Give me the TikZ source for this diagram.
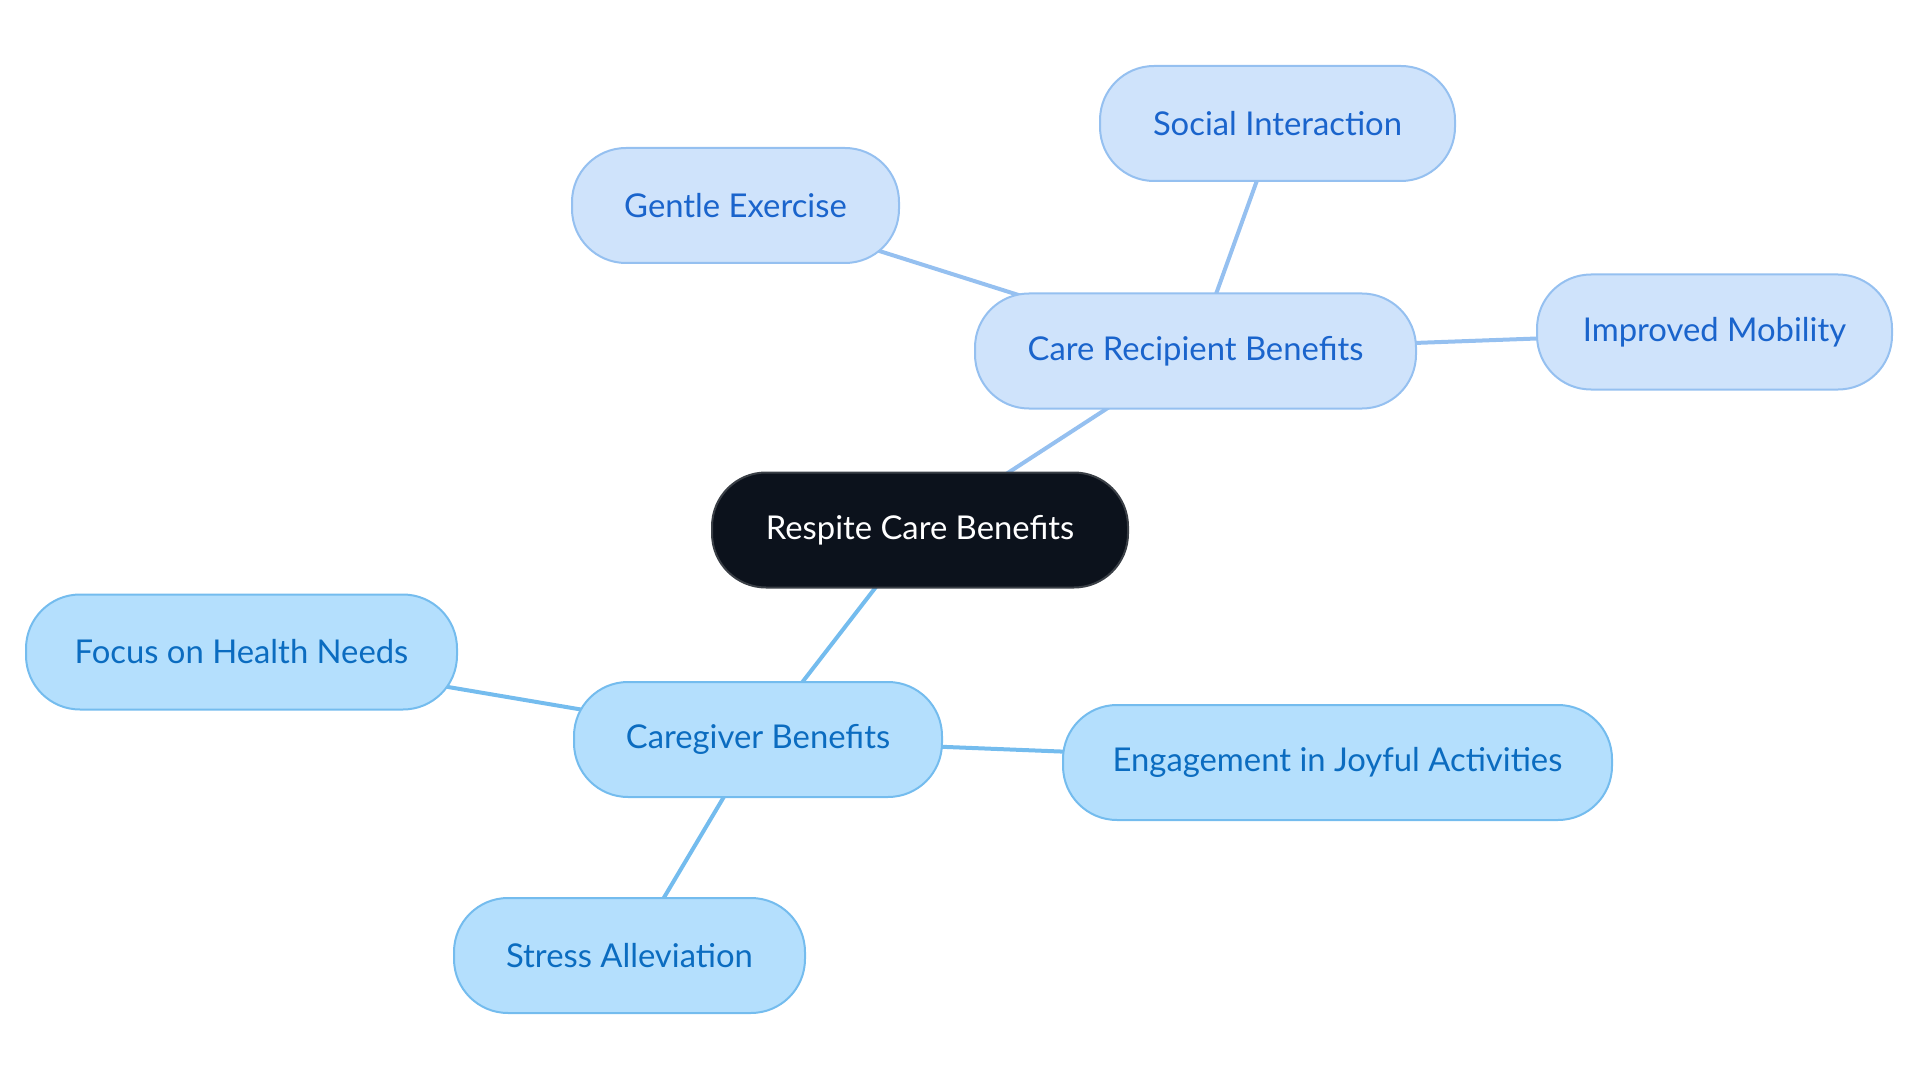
\documentclass[tikz,border=0pt]{standalone}
\usepackage{fontspec}
\setmainfont{Lato}
\usetikzlibrary{backgrounds}
\definecolor{rootfill}{HTML}{0C121C}
\definecolor{rootdraw}{HTML}{3A3F46}
\definecolor{topfill}{HTML}{CFE3FB}
\definecolor{topdraw}{HTML}{95C0F0}
\definecolor{toptext}{HTML}{1A64CC}
\definecolor{botfill}{HTML}{B4DFFD}
\definecolor{botdraw}{HTML}{74BCEE}
\definecolor{bottext}{HTML}{0B6CC0}
\tikzset{
  box/.style={rounded corners=54pt, inner sep=0pt, line width=2pt, minimum height=115pt,
    font=\fontsize{32.8}{38}\selectfont, align=center},
  rootbox/.style={box, fill=rootfill, draw=rootdraw, text=white},
  topbox/.style={box, fill=topfill, draw=topdraw, text=toptext},
  botbox/.style={box, fill=botfill, draw=botdraw, text=bottext},
  toplink/.style={draw=topdraw, line width=4pt},
  botlink/.style={draw=botdraw, line width=4pt}
}
\begin{document}
\begin{tikzpicture}[x=1pt,y=-1pt]
\useasboundingbox (0,0) rectangle (1920,1083);
\node[rootbox, minimum width=416pt] (root) at (920,530) {Respite Care Benefits};
\node[topbox, minimum width=441pt] (cr) at (1195.5,351) {Care Recipient Benefits};
\node[topbox, minimum width=355pt] (si) at (1277.5,123.5) {Social Interaction};
\node[topbox, minimum width=327pt] (ge) at (735.5,205.5) {Gentle Exercise};
\node[topbox, minimum width=355pt] (im) at (1714.5,332) {Improved Mobility};
\node[botbox, minimum width=368pt] (cg) at (758,739.5) {Caregiver Benefits};
\node[botbox, minimum width=431pt] (fh) at (241.5,652) {Focus on Health Needs};
\node[botbox, minimum width=549pt] (ej) at (1337.5,762.5) {Engagement in Joyful Activities};
\node[botbox, minimum width=351pt] (sa) at (629.5,955.5) {Stress Alleviation};
\begin{scope}[on background layer]
\draw[toplink] (root.center) -- (cr.center);
\draw[toplink] (cr.center) -- (si.center);
\draw[toplink] (cr.center) -- (ge.center);
\draw[toplink] (cr.center) -- (im.center);
\draw[botlink] (root.center) -- (cg.center);
\draw[botlink] (cg.center) -- (fh.center);
\draw[botlink] (cg.center) -- (ej.center);
\draw[botlink] (cg.center) -- (sa.center);
\end{scope}
\end{tikzpicture}
\end{document}
